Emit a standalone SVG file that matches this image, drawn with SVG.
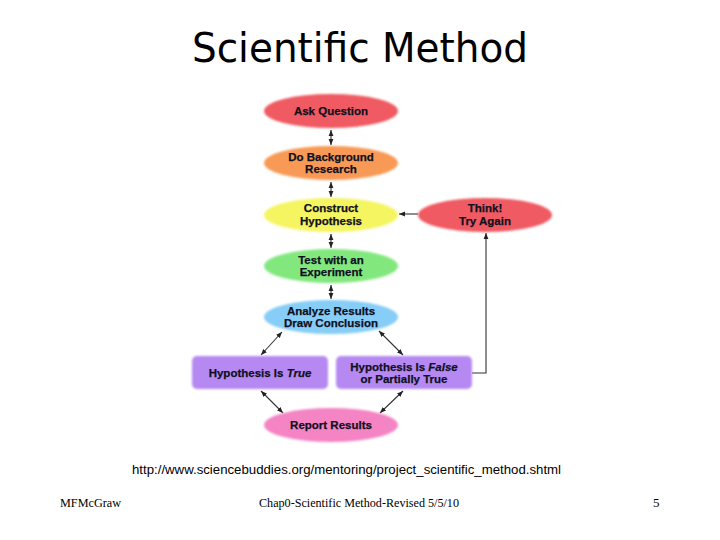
<svg xmlns="http://www.w3.org/2000/svg" width="720" height="540" viewBox="0 0 720 540">
<defs>
<style>
.lbl{font-family:"Liberation Sans",Arial,sans-serif;font-weight:bold;font-size:11.5px;fill:#10101e;stroke:#10101e;stroke-width:0.25;text-anchor:middle}
.con{stroke:#333;stroke-width:1.1;fill:none}
.foot{font-family:"Liberation Serif","Times New Roman",serif;font-size:13px;fill:#000}
</style>
<marker id="ah" viewBox="0 0 10 10" refX="10" refY="5" markerWidth="6" markerHeight="6" orient="auto-start-reverse" markerUnits="userSpaceOnUse">
<path d="M0,1 L10,5 L0,9 z" fill="#222"/>
</marker>
<filter id="soft" x="-10%" y="-20%" width="120%" height="140%">
<feGaussianBlur stdDeviation="0.8"/>
</filter>
</defs>
<rect width="720" height="540" fill="#fff"/>
<text x="360" y="62" font-family="'DejaVu Sans',sans-serif" font-size="40" text-anchor="middle" textLength="336" lengthAdjust="spacingAndGlyphs" fill="#000">Scientific Method</text>

<g id="connectors">
<line class="con" x1="331" y1="130" x2="331" y2="145" marker-start="url(#ah)" marker-end="url(#ah)"/>
<line class="con" x1="331" y1="182" x2="331" y2="197" marker-start="url(#ah)" marker-end="url(#ah)"/>
<line class="con" x1="331" y1="234" x2="331" y2="248" marker-start="url(#ah)" marker-end="url(#ah)"/>
<line class="con" x1="331" y1="285" x2="331" y2="299" marker-start="url(#ah)" marker-end="url(#ah)"/>
<line class="con" x1="418" y1="214" x2="399" y2="214" marker-end="url(#ah)"/>
<polyline class="con" points="472,373 486,373 486,233" marker-end="url(#ah)"/>
<line class="con" x1="282" y1="332" x2="261" y2="355" marker-start="url(#ah)" marker-end="url(#ah)"/>
<line class="con" x1="379" y1="331" x2="403" y2="355" marker-start="url(#ah)" marker-end="url(#ah)"/>
<line class="con" x1="261" y1="391" x2="283" y2="413" marker-start="url(#ah)" marker-end="url(#ah)"/>
<line class="con" x1="403" y1="391" x2="380" y2="413" marker-start="url(#ah)" marker-end="url(#ah)"/>
</g>

<g id="ask">
<ellipse cx="331" cy="111" rx="67" ry="17" fill="#f05a62" filter="url(#soft)"/>
<text class="lbl" x="331" y="115">Ask Question</text>
</g>
<g id="background">
<ellipse cx="331" cy="163" rx="67" ry="17" fill="#f89a55" filter="url(#soft)"/>
<text class="lbl" x="331" y="161">Do Background</text>
<text class="lbl" x="331" y="173">Research</text>
</g>
<g id="hypothesis">
<ellipse cx="331" cy="215" rx="67" ry="17" fill="#f5f562" filter="url(#soft)"/>
<text class="lbl" x="331" y="212">Construct</text>
<text class="lbl" x="331" y="225">Hypothesis</text>
</g>
<g id="think">
<ellipse cx="485" cy="215" rx="67" ry="17" fill="#f05a62" filter="url(#soft)"/>
<text class="lbl" x="485" y="212">Think!</text>
<text class="lbl" x="485" y="225">Try Again</text>
</g>
<g id="experiment">
<ellipse cx="331" cy="266" rx="67" ry="17" fill="#82e87e" filter="url(#soft)"/>
<text class="lbl" x="331" y="264">Test with an</text>
<text class="lbl" x="331" y="276">Experiment</text>
</g>
<g id="analyze">
<ellipse cx="331" cy="317" rx="67" ry="17" fill="#86cdf7" filter="url(#soft)"/>
<text class="lbl" x="331" y="315">Analyze Results</text>
<text class="lbl" x="331" y="327">Draw Conclusion</text>
</g>
<g id="true">
<rect x="192" y="356" width="136" height="33" rx="5" fill="#b689f2" filter="url(#soft)"/>
<text class="lbl" x="260" y="377">Hypothesis Is <tspan font-style="italic">True</tspan></text>
</g>
<g id="false">
<rect x="336" y="356" width="136" height="33" rx="5" fill="#b689f2" filter="url(#soft)"/>
<text class="lbl" x="404" y="371">Hypothesis Is <tspan font-style="italic">False</tspan></text>
<text class="lbl" x="404" y="383">or Partially True</text>
</g>
<g id="report">
<ellipse cx="331" cy="425" rx="67" ry="17" fill="#f484c4" filter="url(#soft)"/>
<text class="lbl" x="331" y="429">Report Results</text>
</g>

<text x="132" y="474" font-family="'Liberation Sans',Arial,sans-serif" font-size="12" textLength="429" lengthAdjust="spacingAndGlyphs" fill="#000">http://www.sciencebuddies.org/mentoring/project_scientific_method.shtml</text>
<text class="foot" x="60" y="507" textLength="61" lengthAdjust="spacingAndGlyphs">MFMcGraw</text>
<text class="foot" x="259" y="507" textLength="200" lengthAdjust="spacingAndGlyphs">Chap0-Scientific Method-Revised 5/5/10</text>
<text class="foot" x="653" y="507">5</text>
</svg>
